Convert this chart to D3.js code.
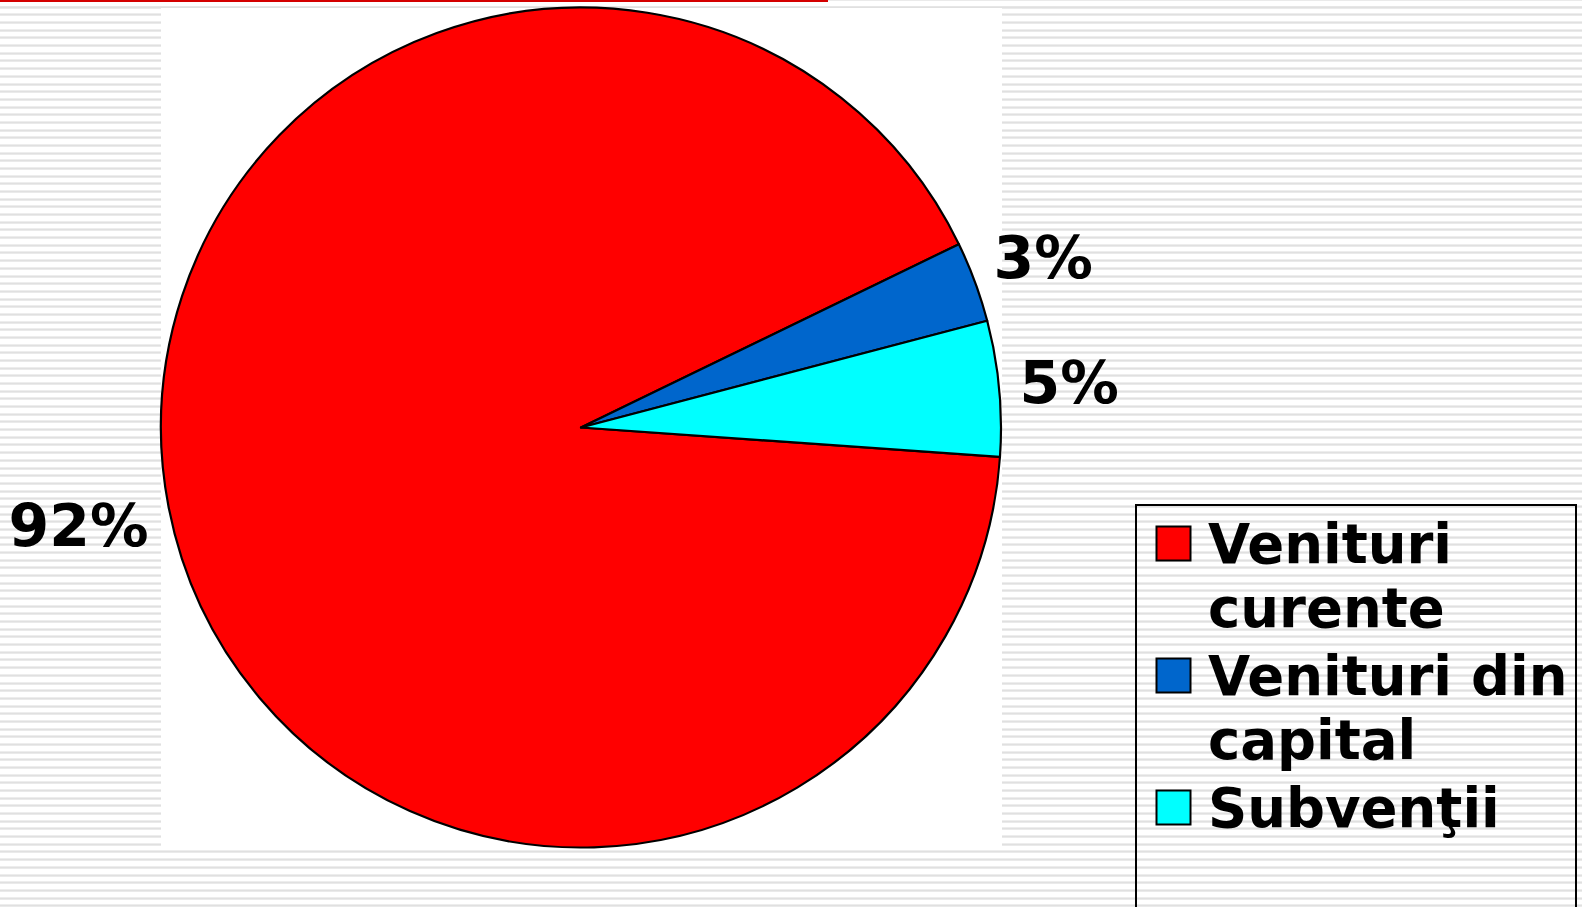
<!DOCTYPE html>
<html>
<head>
<meta charset="utf-8">
<script src="https://cdn.jsdelivr.net/npm/d3@7"></script>
<style>
  html, body { margin: 0; padding: 0; background: #fff; overflow: hidden; }
  svg { display: block; }
  text { font-family: "DejaVu Sans", Verdana, sans-serif; font-weight: bold; fill: #000; }
</style>
</head>
<body>
<svg id="chart" width="1582" height="907"></svg>
<script>
// ---- data ----
const categories = ["Venituri curente", "Venituri din capital", "Subvenţii"];
const values = [91.7, 3.1, 5.2];
const legendLines = [["Venituri", "curente"], ["Venituri din", "capital"], ["Subvenţii"]];
const colors = ["#FF0000", "#0066CC", "#00FFFF"];

// ---- layout ----
const W = 1582, H = 907;
const cx = 581, cy = 427.5, R = 420;
const startDeg = 94;

const svg = d3.select("#chart");

// striped background
const bg = svg.append("g");
const period = 7.68;
for (let y = 6.7 - period; y < H; y += period) {
  bg.append("rect").attr("x", 0).attr("y", Math.round(y) - 1).attr("width", W).attr("height", 1).attr("fill", "#ededed");
  bg.append("rect").attr("x", 0).attr("y", Math.round(y)).attr("width", W).attr("height", 1).attr("fill", "#e0e0e0");
  bg.append("rect").attr("x", 0).attr("y", Math.round(y) + 1).attr("width", W).attr("height", 1).attr("fill", "#eaeaea");
}
// plot area (white)
svg.append("rect").attr("x", 161).attr("y", 8).attr("width", 841).attr("height", 842).attr("fill", "#fff");
// top lines
svg.append("rect").attr("x", 0).attr("y", 6).attr("width", W).attr("height", 1).attr("fill", "#e6e6e6");
svg.append("rect").attr("x", 0).attr("y", 0).attr("width", 828).attr("height", 2).attr("fill", "#d40000");

// pie
const pie = d3.pie().sort(null).value(d => d)
  .startAngle(startDeg * Math.PI / 180)
  .endAngle(startDeg * Math.PI / 180 + 2 * Math.PI);
const arcs = pie(values);
const arc = d3.arc().innerRadius(0).outerRadius(R);

const g = svg.append("g").attr("transform", `translate(${cx},${cy})`);
g.selectAll("path.slice").data(arcs).enter().append("path")
  .attr("class", "slice")
  .attr("d", arc)
  .attr("fill", (d, i) => colors[i])
  .attr("stroke", "#000")
  .attr("stroke-width", 2.2)
  .attr("stroke-linejoin", "round");

// labels
const fsLabel = 58.5;
arcs.forEach((d, i) => {
  const a = (d.startAngle + d.endAngle) / 2;
  const sx = Math.sin(a), sy = -Math.cos(a);
  const t = g.append("text")
    .attr("text-anchor", "middle")
    .style("font-size", fsLabel + "px")
    .text(Math.round(values[i]) + "%");
  const w = t.node().getComputedTextLength();
  const halfH = 21;
  const rr = R + 19 + (w / 2) * Math.abs(sx) + halfH * Math.abs(sy);
  t.attr("x", sx * rr).attr("y", sy * rr + 0.365 * fsLabel);
});

// legend
svg.append("rect").attr("x", 1136).attr("y", 505).attr("width", 440).attr("height", 420)
  .attr("fill", "none").attr("stroke", "#000").attr("stroke-width", 2);
const fsLeg = 54.5;
categories.forEach((c, i) => {
  const base = 563 + 132 * i;
  svg.append("rect").attr("x", 1156.5).attr("y", base - 36.5).attr("width", 34).attr("height", 34)
    .attr("fill", colors[i]).attr("stroke", "#000").attr("stroke-width", 2);
  const t = svg.append("text").attr("x", 1208).attr("y", base).style("font-size", fsLeg + "px");
  legendLines[i].forEach((ln, j) => {
    t.append("tspan").attr("x", 1208).attr("dy", j === 0 ? 0 : 64).text(ln);
  });
});
</script>
</body>
</html>
